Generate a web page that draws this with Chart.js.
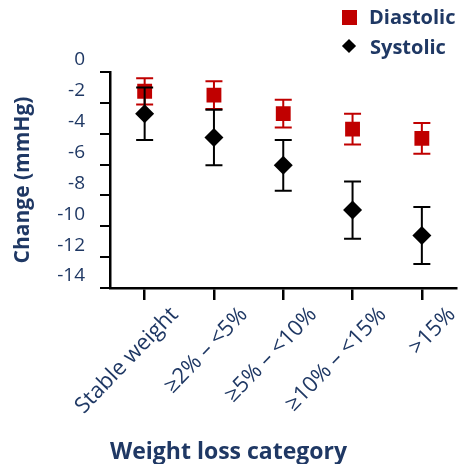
<!DOCTYPE html>
<html>
<head>
<meta charset="utf-8">
<script src="https://cdn.jsdelivr.net/npm/chart.js@4.4.1/dist/chart.umd.min.js"></script>
<style>
    body { margin: 0; background: #fff; }
    #wrap { position: relative; width: 467px; height: 464px; }
    #legend { position: absolute; left: 0; top: 0; font-family: "Open Sans", sans-serif; font-weight: bold; font-size: 20px; color: #1f3864; }
    .item { position: absolute; white-space: nowrap; }
    .square { position: absolute; width: 15px; height: 15px; background: #c00000; }
    .diamond { position: absolute; width: 10px; height: 10px; background: #000; transform: rotate(45deg); }
</style>
</head>
<body>
<div id="wrap">
    <canvas id="chart" width="467" height="464"></canvas>
    <div id="legend">
        <div class="square" style="left:342px; top:10px;"></div>
        <div class="item" style="left:369px; top:3px;">Diastolic</div>
        <div class="diamond" style="left:344px; top:41px;"></div>
        <div class="item" style="left:370px; top:33px;">Systolic</div>
    </div>
</div>
<script>
const categories = ['Stable weight', '≥2% – <5%', '≥5% – <10%', '≥10% – <15%', '>15%'];
const diastolic = [-1.25, -1.5, -2.7, -3.7, -4.3];
const diastolicErr = [0.85, 0.9, 0.9, 1.0, 1.0];
const systolic = [-2.7, -4.25, -6.05, -8.95, -10.6];
const systolicErr = [1.7, 1.8, 1.65, 1.85, 1.85];
const yTicks = [0, -2, -4, -6, -8, -10, -12, -14];

const navy = '#1f3864';
const red = '#c00000';

// draws the error bars of a dataset just before its markers
const errorBars = {
    id: 'errorBars',
    beforeDatasetDraw(chart, args) {
        const ds = chart.data.datasets[args.index];
        const meta = args.meta;
        const y = chart.scales.y;
        const ctx = chart.ctx;
        ctx.save();
        ctx.strokeStyle = ds.errColor;
        ctx.lineWidth = 2;
        meta.data.forEach((pt, i) => {
            const v = ds.data[i];
            const top = y.getPixelForValue(v + ds.err[i]);
            const bot = y.getPixelForValue(v - ds.err[i]);
            ctx.beginPath();
            ctx.moveTo(pt.x, top);
            ctx.lineTo(pt.x, bot);
            ctx.moveTo(pt.x - 8.5, top);
            ctx.lineTo(pt.x + 8.5, top);
            ctx.moveTo(pt.x - 8.5, bot);
            ctx.lineTo(pt.x + 8.5, bot);
            ctx.stroke();
        });
        ctx.restore();
    }
};

new Chart(document.getElementById('chart'), {
    type: 'line',
    data: {
        labels: categories,
        datasets: [
            {
                label: 'Diastolic',
                data: diastolic,
                err: diastolicErr,
                errColor: red,
                showLine: false,
                pointStyle: 'rect',
                pointRadius: 10.5,
                backgroundColor: red,
                borderColor: red,
                borderWidth: 0,
                order: 1
            },
            {
                label: 'Systolic',
                data: systolic,
                err: systolicErr,
                errColor: '#000',
                showLine: false,
                pointStyle: 'rectRot',
                pointRadius: 9.5,
                backgroundColor: '#000',
                borderColor: '#000',
                borderWidth: 0,
                order: 0
            }
        ]
    },
    options: {
        responsive: false,
        animation: false,
        layout: { padding: { top: 72, right: 10, left: 0, bottom: 0 } },
        plugins: {
            legend: { display: false },
            tooltip: { enabled: false }
        },
        scales: {
            x: {
                offset: true,
                afterFit: s => { s.height = 176; },
                grid: { drawOnChartArea: false, tickLength: 12, color: '#000', lineWidth: 2.5 },
                border: { color: '#000', width: 2.5 },
                ticks: {
                    color: navy,
                    font: { family: 'Open Sans', size: 22 },
                    minRotation: 46,
                    maxRotation: 46,
                    padding: 2,
                    labelOffset: 30
                },
                title: {
                    display: true,
                    text: 'Weight loss category',
                    align: 'start',
                    color: navy,
                    font: { family: 'Open Sans', size: 23, weight: 'bold' },
                    padding: { top: 0, bottom: -2 }
                }
            },
            y: {
                min: -14,
                max: 0,
                afterFit: s => { s.width = 110; },
                afterBuildTicks: s => { s.ticks = yTicks.map(v => ({ value: v })); },
                grid: { drawOnChartArea: false, tickLength: 10, color: '#000', lineWidth: 2 },
                border: { color: '#000', width: 2.5 },
                ticks: {
                    color: navy,
                    font: { family: 'Open Sans', size: 19 },
                    padding: 15,
                    labelOffset: -12
                },
                title: {
                    display: true,
                    text: 'Change (mmHg)',
                    color: navy,
                    font: { family: 'Open Sans', size: 21, weight: 'bold' },
                    padding: { top: 10, bottom: 0 }
                }
            }
        }
    },
    plugins: [errorBars]
});
</script>
</body>
</html>
